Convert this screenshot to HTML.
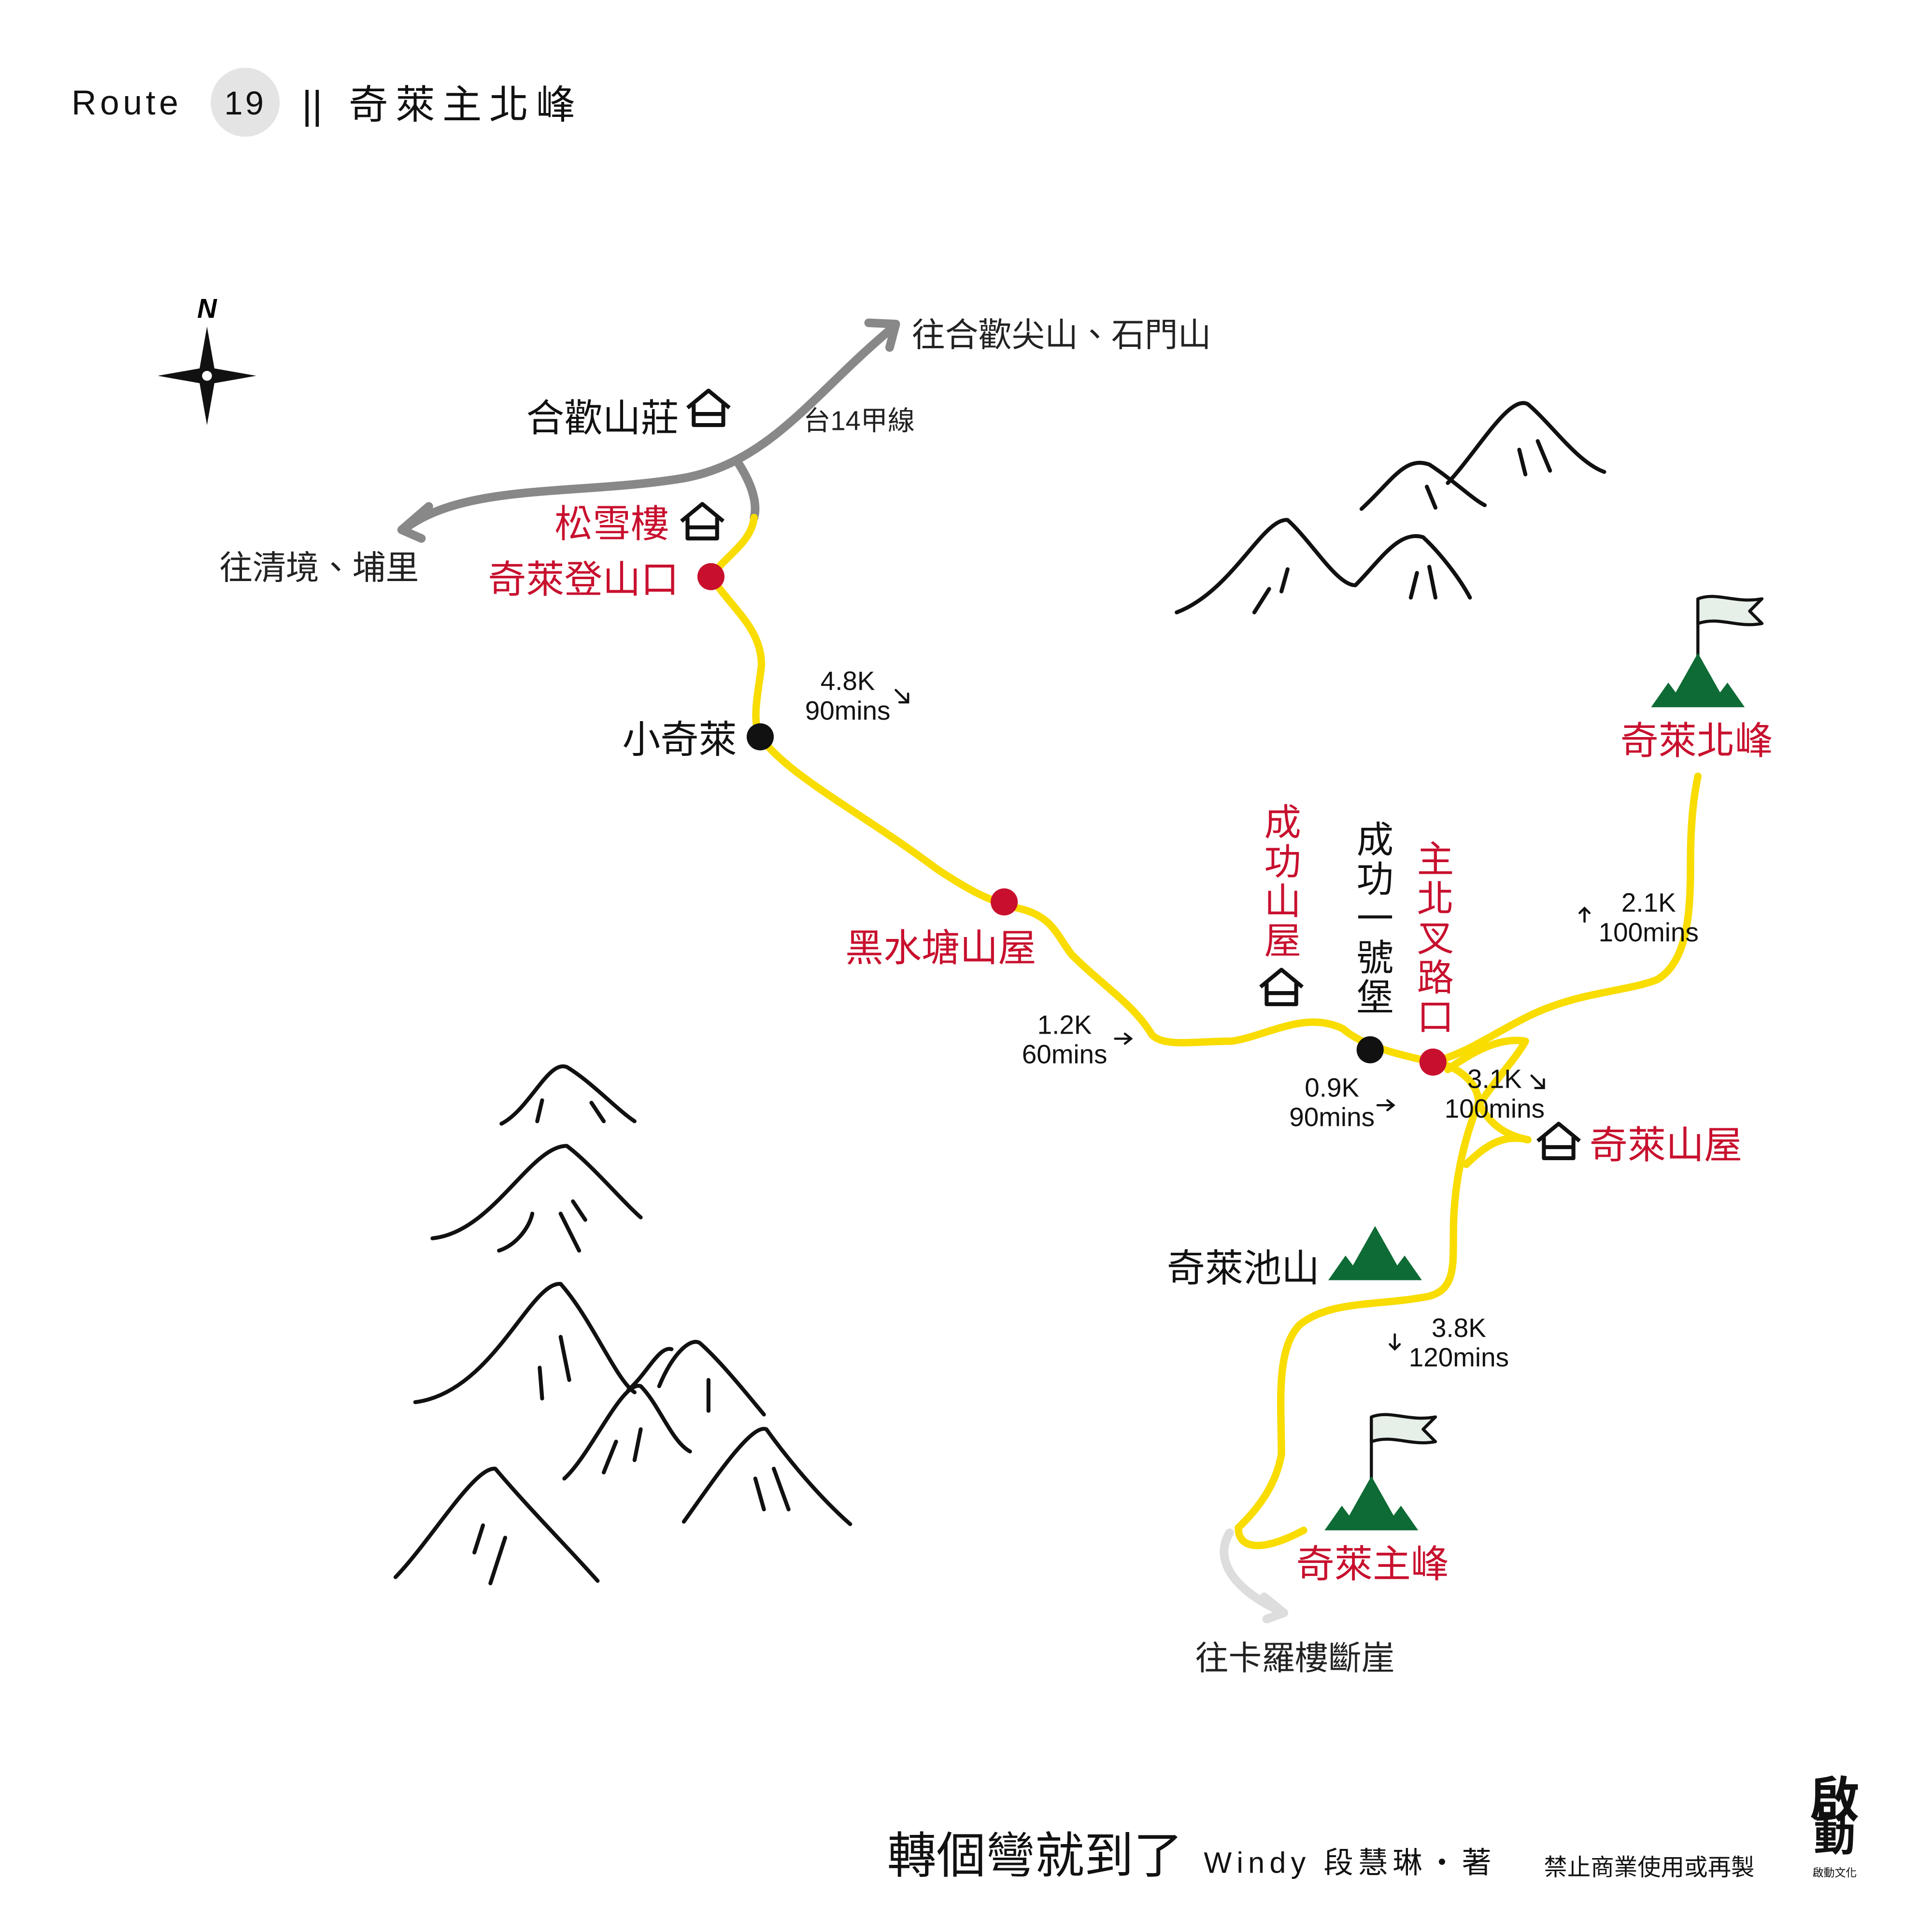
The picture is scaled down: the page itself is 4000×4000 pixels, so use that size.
<!DOCTYPE html>
<html><head><meta charset="utf-8"><style>
html,body{margin:0;padding:0;background:#fff;}
svg{display:block;}
text{font-family:"Liberation Sans","Noto Sans CJK TC",sans-serif;}
</style></head><body>
<svg width="4000" height="4000" viewBox="0 0 1568 1568" xmlns="http://www.w3.org/2000/svg">
<defs>
<g id="hut"><path d="M-17,-2 L0,-16 L17,-2 M-12,-5 L-12,12 L12,12 L12,-5 M-12,3 L12,3" fill="none" stroke="#111" stroke-width="3.2" stroke-linejoin="round"/></g>
<g id="gm"><path d="M-38,22 L-24,2 L-18,10 L0,-22 L18,10 L24,2 L38,22 Z" fill="#0e6b35"/></g>
<g id="flag"><path d="M0,40 L0,-12" stroke="#111" stroke-width="2.5"/><path d="M0,-12 C15,-18 30,-8 52,-12 L42,-2 L52,8 C32,12 18,2 0,8 Z" fill="#e6efe8" stroke="#111" stroke-width="2.5" stroke-linejoin="round"/></g>
</defs>

<text x="58" y="93" font-size="28" letter-spacing="3" fill="#111">Route</text>
<circle cx="199" cy="83" r="28" fill="#e4e4e4"/>
<text x="199" y="93" font-size="27" text-anchor="middle" letter-spacing="2" fill="#111">19</text>
<text x="245" y="96" font-size="32" fill="#111">||</text>
<text x="283" y="96" font-size="32" letter-spacing="6" fill="#111">奇萊主北峰</text>

<text x="168" y="258" font-family="Liberation Serif,serif" font-style="italic" font-weight="bold" font-size="22" text-anchor="middle">N</text>
<path d="M168,265 L174,299 L208,305 L174,311 L168,345 L162,311 L128,305 L162,299 Z" fill="#111"/>
<circle cx="168" cy="305" r="4" fill="#fff"/>

<g fill="none" stroke="#111" stroke-width="3.2" stroke-linecap="round" stroke-linejoin="round">
<path d="M1105,413 C1130,390 1140,370 1160,377 C1180,390 1195,405 1205,410"/>
<path d="M1175,392 C1200,365 1225,320 1240,328 C1260,345 1280,375 1302,383"/>
<path d="M1233,365 L1238,385 M1248,358 L1258,382 M1158,395 L1165,412"/>
<path d="M955,497 C1000,480 1025,420 1045,422 C1065,440 1085,475 1100,475 C1120,455 1135,430 1155,436 C1170,450 1185,470 1193,485"/>
<path d="M1018,497 L1030,478 M1040,480 L1045,462 M1145,485 L1150,465 M1165,485 L1160,460"/>
<path d="M407,912 C430,900 445,860 460,866 C480,878 500,900 515,910"/>
<path d="M436,910 L440,893 M480,895 L490,910"/>
<path d="M351,1005 C400,1000 430,930 460,930 C480,945 505,975 520,988"/>
<path d="M405,1015 C420,1010 430,995 432,985 M455,985 L470,1015 M465,975 L475,990"/>
<path d="M337,1138 C400,1130 430,1040 455,1042 C480,1070 500,1120 515,1130"/>
<path d="M440,1135 L438,1110 M455,1085 L462,1120 M510,1128 C525,1115 535,1092 545,1095"/>
<path d="M458,1200 C480,1180 505,1120 520,1125 C535,1140 545,1170 560,1178"/>
<path d="M490,1195 L500,1170 M515,1185 L520,1160"/>
<path d="M535,1125 C545,1100 560,1085 568,1090 C585,1105 605,1130 620,1148"/>
<path d="M575,1145 L575,1120"/>
<path d="M555,1235 C580,1200 610,1155 622,1160 C640,1185 665,1215 690,1237"/>
<path d="M620,1225 L613,1200 M640,1225 L628,1192"/>
<path d="M321,1280 C350,1250 385,1190 402,1192 C430,1225 460,1255 485,1283"/>
<path d="M385,1260 L392,1238 M398,1285 L410,1248"/>
</g>

<g fill="none" stroke="#888" stroke-width="7" stroke-linecap="round" stroke-linejoin="round">
<path d="M722,268 C660,320 625,375 555,388 C470,402 380,392 330,428"/>
<path d="M598,374 C610,392 615,408 612,420"/>
<path d="M705,262 L727,263 L722,282"/>
<path d="M348,411 L326,430 L342,437"/>
</g>
<g fill="none" stroke="#ddd" stroke-width="7" stroke-linecap="round" stroke-linejoin="round">
<path d="M998,1244 C985,1265 1000,1290 1040,1308"/>
<path d="M1026,1296 L1042,1309 L1028,1314"/>
</g>

<g fill="none" stroke="#f9dc00" stroke-width="6" stroke-linecap="round" stroke-linejoin="round">
<path d="M612,420 C610,440 590,450 577,468 C595,495 618,510 618,540 C615,565 610,585 617,598 C640,630 700,660 760,705 C790,725 805,732 830,738 C855,745 858,760 870,775 C895,800 920,815 935,840 C945,850 970,845 1000,845 C1030,840 1060,820 1090,835 C1105,848 1130,855 1163,862"/>
<path d="M1163,862 C1190,855 1210,840 1240,825 C1280,805 1320,805 1345,795 C1370,780 1372,740 1372,700 C1372,660 1376,640 1378,630"/>
<path d="M1163,862 C1185,865 1200,880 1200,895 C1190,920 1182,950 1180,985 C1178,1020 1185,1045 1160,1052 C1120,1060 1080,1055 1055,1075 C1035,1095 1040,1140 1040,1180 C1035,1210 1015,1230 1005,1240 C1005,1255 1020,1262 1058,1242"/>
<path d="M1175,868 C1200,850 1220,842 1238,845 C1230,860 1210,880 1195,905"/>
<path d="M1240,925 C1220,920 1205,930 1190,945"/>
<path d="M1200,895 C1210,915 1225,922 1240,925"/>
</g>

<circle cx="577" cy="468" r="11" fill="#c8102e"/>
<circle cx="815" cy="732" r="11" fill="#c8102e"/>
<circle cx="1163" cy="862" r="11" fill="#c8102e"/>
<circle cx="617" cy="598" r="11" fill="#111"/>
<circle cx="1112" cy="852" r="11" fill="#111"/>

<use href="#hut" x="575" y="333"/>
<use href="#hut" x="570" y="425"/>
<use href="#hut" x="1040" y="803"/>
<use href="#hut" x="1265" y="928"/>

<use href="#flag" x="1378" y="498"/>
<use href="#gm" x="1378" y="552"/>
<use href="#gm" x="1116" y="1017"/>
<use href="#flag" x="1113" y="1162"/>
<use href="#gm" x="1113" y="1220"/>

<g font-size="31" fill="#111">
<text x="427" y="350">合歡山莊</text>
<text x="505" y="611">小奇萊</text>
<text x="947" y="1040">奇萊池山</text>
</g>
<g font-size="27" fill="#222">
<text x="740" y="281">往合歡尖山、石門山</text>
<text x="178" y="470">往清境、埔里</text>
<text x="970" y="1355">往卡羅樓斷崖</text>
</g>
<text x="652" y="349" font-size="22" fill="#222">台14甲線</text>
<g font-size="31" fill="#c8102e">
<text x="450" y="436">松雪樓</text>
<text x="396" y="481">奇萊登山口</text>
<text x="686" y="780">黑水塘山屋</text>
<text x="1315" y="612">奇萊北峰</text>
<text x="1290" y="940">奇萊山屋</text>
<text x="1052" y="1280">奇萊主峰</text>
</g>
<g font-size="30" fill="#c8102e" text-anchor="middle">
<text x="1041" y="678">成</text><text x="1041" y="710">功</text><text x="1041" y="742">山</text><text x="1041" y="774">屋</text>
<text x="1165" y="708">主</text><text x="1165" y="740">北</text><text x="1165" y="772">叉</text><text x="1165" y="804">路</text><text x="1165" y="836">口</text>
</g>
<g font-size="30" fill="#111" text-anchor="middle">
<text x="1116" y="692">成</text><text x="1116" y="724">功</text><text x="1116" y="756">一</text><text x="1116" y="788">號</text><text x="1116" y="820">堡</text>
</g>

<g font-size="21.5" fill="#111" text-anchor="middle">
<text x="688" y="560">4.8K</text><text x="688" y="584">90mins</text>
<text x="864" y="839">1.2K</text><text x="864" y="863">60mins</text>
<text x="1081" y="890">0.9K</text><text x="1081" y="914">90mins</text>
<text x="1213" y="883">3.1K</text><text x="1213" y="907">100mins</text>
<text x="1338" y="740">2.1K</text><text x="1338" y="764">100mins</text>
<text x="1184" y="1085">3.8K</text><text x="1184" y="1109">120mins</text>
</g>
<g fill="none" stroke="#111" stroke-width="1.8" stroke-linecap="round">
<path d="M727,560 L737,570 M737,563 L737,570 L730,570"/>
<path d="M905,843 L918,843 M913,839 L918,843 L913,847"/>
<path d="M1118,897 L1131,897 M1126,893 L1131,897 L1126,901"/>
<path d="M1243,873 L1253,883 M1253,876 L1253,883 L1246,883"/>
<path d="M1286,748 L1286,737 M1282,741 L1286,737 L1290,741"/>
<path d="M1132,1083 L1132,1095 M1128,1091 L1132,1095 L1136,1091"/>
</g>

<text x="720" y="1520" font-size="40" fill="#111">轉個彎就到了</text>
<text x="977" y="1520" font-size="24" letter-spacing="4" fill="#111">Windy 段慧琳・著</text>
<text x="1253" y="1522" font-size="19" fill="#111">禁止商業使用或再製</text>
<text x="1489" y="1475" font-size="40" font-weight="bold" text-anchor="middle" fill="#111">啟</text>
<text x="1489" y="1502" font-size="34" font-weight="bold" text-anchor="middle" fill="#111">動</text>
<text x="1489" y="1523" font-size="9" text-anchor="middle" fill="#111">啟動文化</text>
</svg>
</body></html>
